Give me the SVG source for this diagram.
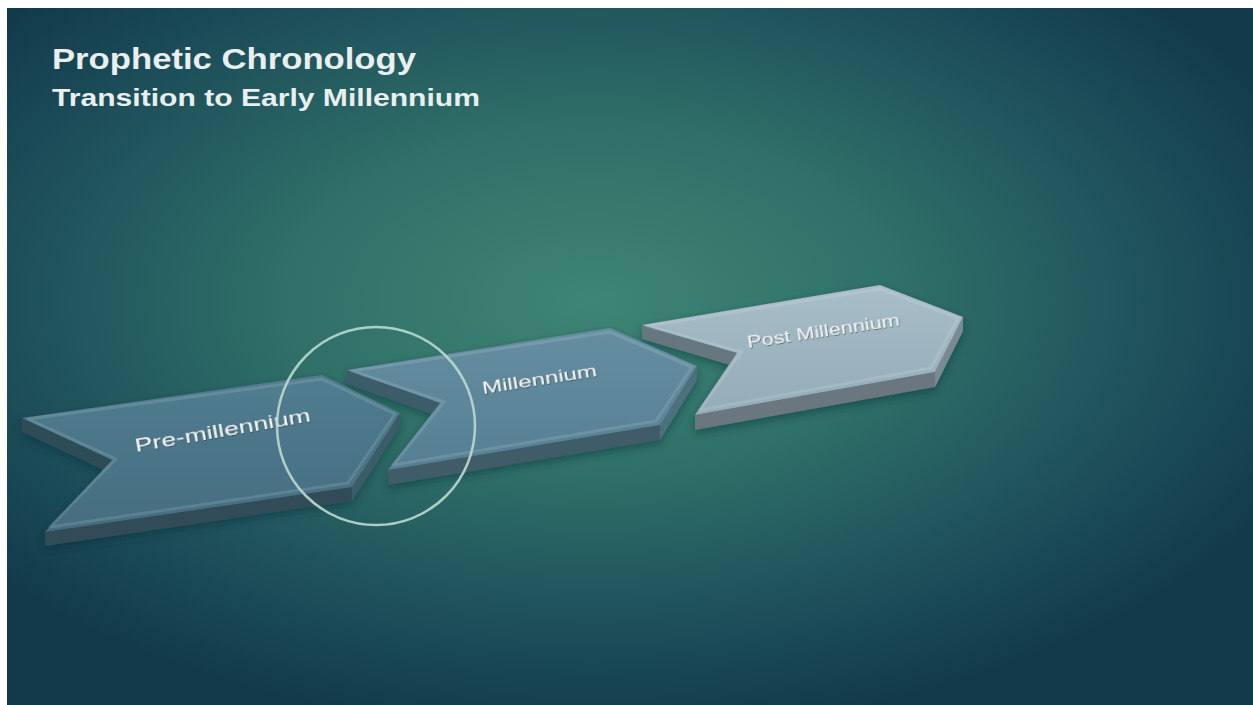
<svg xmlns="http://www.w3.org/2000/svg" width="1253" height="705" viewBox="0 0 1253 705">
<defs>
<radialGradient id="bg" cx="0.47" cy="0.42" r="0.62">
<stop offset="0" stop-color="#3e8574"/>
<stop offset="0.4" stop-color="#2f7068"/>
<stop offset="0.78" stop-color="#1c4d59"/>
<stop offset="1" stop-color="#123a4b"/>
</radialGradient>
<linearGradient id="top1" x1="0" y1="0" x2="0" y2="1">
<stop offset="0" stop-color="#517d90"/>
<stop offset="1" stop-color="#446d80"/>
</linearGradient>
<linearGradient id="top2" x1="0" y1="0" x2="0" y2="1">
<stop offset="0" stop-color="#658ea1"/>
<stop offset="1" stop-color="#567f93"/>
</linearGradient>
<linearGradient id="top3" x1="0" y1="0" x2="0" y2="1">
<stop offset="0" stop-color="#a8bec8"/>
<stop offset="1" stop-color="#93acb8"/>
</linearGradient>
<filter id="sh" x="-10%" y="-10%" width="120%" height="130%">
<feDropShadow dx="0" dy="4" stdDeviation="4" flood-color="#0a2a30" flood-opacity="0.45"/>
</filter>
<filter id="emb" x="-5%" y="-20%" width="110%" height="140%">
<feDropShadow dx="0.6" dy="0.8" stdDeviation="0.4" flood-color="#1f3540" flood-opacity="0.8"/>
</filter>
</defs>
<style>
.title{font-family:"Liberation Sans",Arial,sans-serif;font-weight:bold;fill:#e9efee}
.lbl{font-family:"Liberation Sans",Arial,sans-serif;fill:#f2f4f4}
.bevel{fill:none;stroke:#ffffff;stroke-opacity:0.12;stroke-width:3;stroke-linejoin:round}
</style>
<rect x="0" y="0" width="1253" height="705" fill="#ffffff"/>
<rect x="7" y="8" width="1246" height="697" fill="url(#bg)"/>

<g id="title">
<text class="title" x="52" y="69" font-size="29" textLength="364" lengthAdjust="spacingAndGlyphs">Prophetic Chronology</text>
<text class="title" x="52" y="106" font-size="24" textLength="428" lengthAdjust="spacingAndGlyphs">Transition to Early Millennium</text>
</g>

<g id="post-millennium" filter="url(#sh)">
<polygon points="642,325 737,353 737,367 642,339" fill="#66777f"/>
<polygon points="695,415 935,372 935,387 695,430" fill="#6a777e"/>
<polygon points="963,317 935,372 935,387 963,331" fill="#7a8a92"/>
<polygon points="642,325 880,285 963,317 935,372 695,415 737,353" fill="url(#top3)"/>
<polygon class="bevel" points="647,326 880,289 958,318 931,368 700,410 741,352"/>
<text class="lbl" x="748" y="348" font-size="17" textLength="154" lengthAdjust="spacingAndGlyphs" transform="rotate(-8.5 748 348)" fill="#e6ecee" filter="url(#emb)">Post Millennium</text>
</g>

<g id="millennium" filter="url(#sh)">
<polygon points="347,370 440,403 440,417 347,384" fill="#3d5b69"/>
<polygon points="388,470 660,425 660,440 388,485" fill="#405b68"/>
<polygon points="697,366 660,425 660,440 697,380" fill="#4e6f7e"/>
<polygon points="347,370 610,328 697,366 660,425 388,470 440,403" fill="url(#top2)"/>
<polygon class="bevel" points="352,371 610,332 692,367 656,421 393,465 444,402"/>
<text class="lbl" x="483" y="394" font-size="17" textLength="116" lengthAdjust="spacingAndGlyphs" transform="rotate(-9 483 394)" filter="url(#emb)">Millennium</text>
</g>

<g id="pre-millennium" filter="url(#sh)">
<polygon points="22,418 112,460 112,474 22,432" fill="#2f4c58"/>
<polygon points="45,532 352,487 352,501 45,546" fill="#324c58"/>
<polygon points="400,413 352,487 352,501 400,427" fill="#3c5b69"/>
<polygon points="22,418 322,375 400,413 352,487 45,532 112,460" fill="url(#top1)"/>
<polygon class="bevel" points="28,419 322,379 395,414 348,483 50,527 116,459"/>
<text class="lbl" x="136" y="452" font-size="19" textLength="178" lengthAdjust="spacingAndGlyphs" transform="rotate(-10 136 452)" filter="url(#emb)">Pre-millennium</text>
</g>

<g id="connectors">
<circle cx="376" cy="426" r="99" fill="none" stroke="#bcd8cf" stroke-width="2.5" stroke-opacity="0.9"/>
</g>
</svg>
